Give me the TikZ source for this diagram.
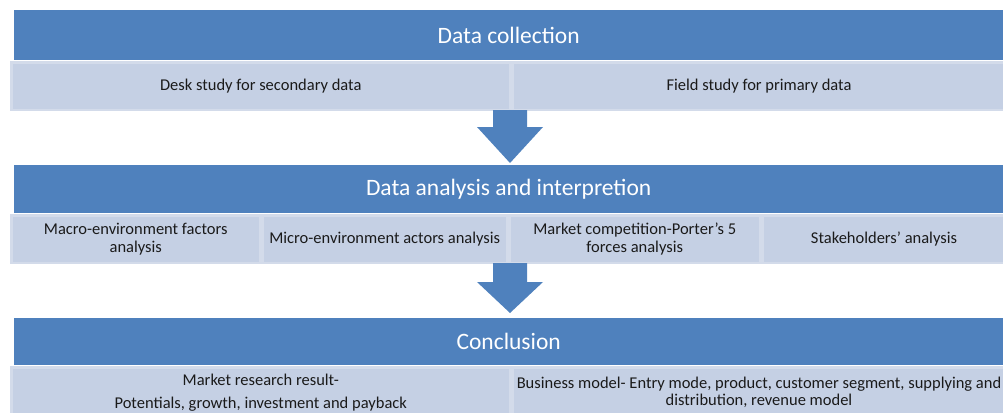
\documentclass[tikz,border=0pt]{standalone}
\usepackage{fontspec}
\setmainfont{Carlito}
\usetikzlibrary{calc}
\definecolor{hdrblue}{HTML}{4F81BD}
\definecolor{subfill}{HTML}{C5D0E4}
\definecolor{subedge}{HTML}{D3DBEA}
\definecolor{subtext}{HTML}{1A1A1A}
\begin{document}
\begin{tikzpicture}[x=1pt,y=-1pt,
  header/.style={fill=hdrblue, text=white, inner sep=0pt, anchor=north west,
    font=\fontsize{23.5}{28}\selectfont},
  subbox/.style={fill=subfill, draw=subedge, line width=2.5pt, inner sep=0pt,
    anchor=north west, text=subtext, align=center,
    font=\fontsize{16.5}{17.5}\selectfont},
  blockarrow/.style={fill=hdrblue}
]
\useasboundingbox (0,0) rectangle (1003,412);
\clip (0,0) rectangle (1003,412);

% stage 1: data collection
\node[header, minimum width=989pt, minimum height=50pt] (h1) at (14,10) {Data collection};
\node[subbox, minimum width=498.5pt, minimum height=47.5pt] (desk) at (10.25,61.25)
  {Desk study for secondary data};
\node[subbox, minimum width=493pt, minimum height=47.5pt] (field) at (511.25,61.25)
  {Field study for primary data};

% stage 2: data analysis
\node[header, minimum width=989pt, minimum height=48pt] (h2) at (14,165) {Data analysis and interpretion};
\node[subbox, minimum width=248.5pt, minimum height=47.5pt] (macro) at (10.25,214.25)
  {Macro-environment factors\\analysis};
\node[subbox, minimum width=244.5pt, minimum height=47.5pt] (micro) at (261.25,214.25)
  {Micro-environment actors analysis};
\node[subbox, minimum width=250.5pt, minimum height=47.5pt] (porter) at (508.25,214.25)
  {Market competition-Porter's 5\\forces analysis};
\node[subbox, minimum width=243pt, minimum height=47.5pt] (stake) at (761.25,214.25)
  {Stakeholders' analysis};

% stage 3: conclusion
\node[header, minimum width=989pt, minimum height=47pt] (h3) at (14,318) {Conclusion};
\node[subbox, minimum width=498.5pt, minimum height=50pt] (result) at (10.25,366.25)
  {Market research result-\\[5pt]Potentials, growth, investment and payback};
\node[subbox, minimum width=493pt, minimum height=50pt] (model) at (511.25,366.25)
  {Business model- Entry mode, product, customer segment, supplying and\\distribution, revenue model};

% block arrows between the stages
\coordinate (a1s) at (510,110);
\coordinate (a1t) at (510,163);
\coordinate (a2s) at (510,263);
\coordinate (a2t) at (510,313);
\fill[blockarrow] ($(a1s)+(-17,0)$) -- ($(a1s)+(17,0)$) -- ($(a1s)+(17,17)$) -- ($(a1s)+(33,17)$)
  -- (a1t) -- ($(a1s)+(-33,17)$) -- ($(a1s)+(-17,17)$) -- cycle;
\fill[blockarrow] ($(a2s)+(-17,0)$) -- ($(a2s)+(17,0)$) -- ($(a2s)+(17,19)$) -- ($(a2s)+(33,19)$)
  -- (a2t) -- ($(a2s)+(-33,19)$) -- ($(a2s)+(-17,19)$) -- cycle;
\end{tikzpicture}
\end{document}
